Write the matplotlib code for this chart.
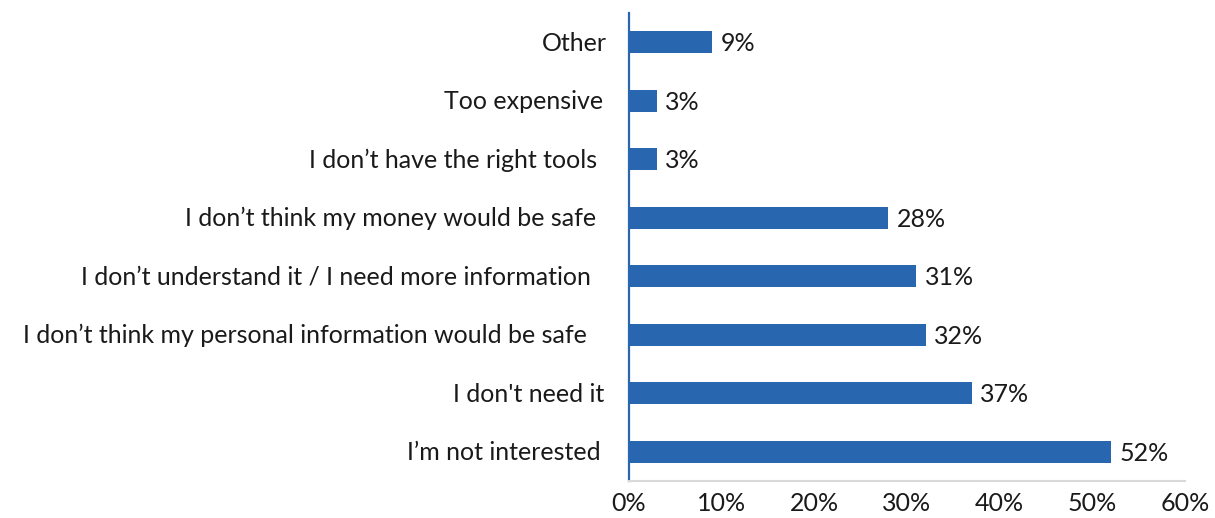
import matplotlib
matplotlib.use("Agg")
import matplotlib.pyplot as plt
from matplotlib.transforms import ScaledTranslation

# Survey responses, listed bottom to top
categories = [
    "I\u2019m not interested",
    "I don't need it",
    "I don\u2019t think my personal information would be safe",
    "I don\u2019t understand it / I need more information",
    "I don\u2019t think my money would be safe",
    "I don\u2019t have the right tools",
    "Too expensive",
    "Other",
]
shares = [52, 37, 32, 31, 28, 3, 3, 9]
x_ticks = [0, 10, 20, 30, 40, 50, 60]
x_tick_labels = ["0%", "10%", "20%", "30%", "40%", "50%", "60%"]

# Extra gap (pixels) between each category label and the axis
label_gaps = [28, 25, 42, 38, 33, 32, 26, 22]

BLUE = "#2966B0"
TEXT = "#1a1a1a"
FONT = "Lato"
FS = 18

fig = plt.figure(figsize=(12.15, 5.18), dpi=100)
ax = fig.add_axes([629 / 1215, 1 - 481 / 518, (1185 - 629) / 1215, (481 - 13) / 518])

ypos = list(range(len(categories)))
ax.barh(ypos, shares, height=0.37, color=BLUE)
ax.set_ylim(-0.5, len(categories) - 0.5)
ax.set_xlim(0, 60)

for y, v in zip(ypos, shares):
    ax.annotate(f"{v}%", xy=(v, y), xytext=(6, -1), textcoords="offset points",
                va="center", ha="left", fontsize=FS, family=FONT, color=TEXT)

# Category labels, right-aligned against the axis with individual gaps
ax.set_yticks(ypos)
ax.set_yticklabels([])
ax.tick_params(axis="y", length=0)
ytrans = ax.get_yaxis_transform()
for y, name, gap in zip(ypos, categories, label_gaps):
    ax.text(0, y, name, ha="right", va="center", fontsize=FS, family=FONT, color=TEXT,
            transform=ytrans + ScaledTranslation(-gap / 100, -1 / 100, fig.dpi_scale_trans))

ax.set_xticks(x_ticks)
ax.set_xticklabels(x_tick_labels, fontsize=FS, family=FONT, color=TEXT)
ax.tick_params(axis="x", length=0, pad=8)

for s in ["top", "right"]:
    ax.spines[s].set_visible(False)
ax.spines["left"].set_color(BLUE)
ax.spines["left"].set_linewidth(1.6)
ax.spines["bottom"].set_color("#d9d9d9")
ax.spines["bottom"].set_linewidth(1.5)

fig.savefig("out.png", dpi=100, facecolor="white")
